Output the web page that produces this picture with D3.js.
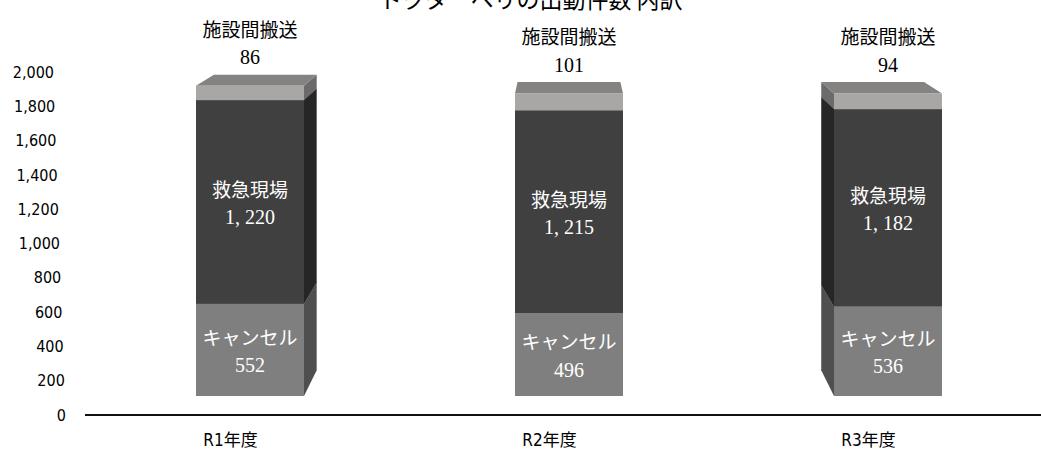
<!DOCTYPE html>
<html>
<head>
<meta charset="utf-8">
<script src="https://cdn.jsdelivr.net/npm/d3@7"></script>
<style>
  body { margin: 0; background: #fff; }
  svg { display: block; }
</style>
</head>
<body>
<script>
const svgWidth = 1041
const svgHeight = 455

// data
const years = ["R1年度", "R2年度", "R3年度"]
const seriesNames = ["キャンセル", "救急現場", "施設間搬送"]
const cancelled = [552, 496, 536]
const onSite = [1220, 1215, 1182]
const transfer = [86, 101, 94]
const yTicks = [0, 200, 400, 600, 800, 1000, 1200, 1400, 1600, 1800, 2000]
const title = "ドクターヘリの出動件数 内訳"

// face colours per series: front, side, top
const faceColors = [
  { front: "#7f7f7f", side: "#4f4f4f", top: "#6a6a6a" },
  { front: "#404040", side: "#262626", top: "#353535" },
  { front: "#a9a6a6", side: "#6c6a6a", top: "#858282" }
]

// perspective point the bar back faces shrink toward
const vp = { x: 568, y: -143 }
const depth = 0.048
const barWidth = 108

const svg = d3.select("body").append("svg")
  .attr("width", svgWidth)
  .attr("height", svgHeight)

const x = d3.scalePoint()
  .domain(years)
  .range([250, 888])

// axis scale (floor is at the front) and bar scale (bars stand further back)
const yAxisScale = d3.scaleLinear().domain([0, 2000]).range([415, 72])
const yBar = d3.scaleLinear().domain([0, 2000]).range([396, 62])

const fmt = d3.format(",")

// title, cropped at the top like the source
svg.append("text")
  .attr("x", 531)
  .attr("y", 8)
  .attr("text-anchor", "middle")
  .attr("font-family", "Noto Sans CJK JP")
  .attr("font-size", "23px")
  .attr("fill", "#000")
  .text(title)

// y axis
const yAxisG = svg.append("g")
  .attr("transform", "translate(66, 0)")
  .call(d3.axisLeft(yAxisScale).tickValues(yTicks).tickFormat(fmt).tickSize(0).tickPadding(0))
yAxisG.select(".domain").remove()
yAxisG.selectAll("text")
  .attr("x", d => -(d / 2000) * 12)
  .attr("font-family", "DejaVu Sans Condensed, Liberation Sans Narrow, Liberation Sans")
  .attr("font-stretch", "condensed")
  .attr("font-size", "16px")
  .attr("fill", "#000")

// floor line
svg.append("line")
  .attr("x1", 85).attr("x2", svgWidth)
  .attr("y1", yAxisScale(0)).attr("y2", yAxisScale(0))
  .attr("stroke", "#111")
  .attr("stroke-width", 2)

// x axis labels
const xAxisG = svg.append("g")
  .attr("transform", `translate(-20, ${yAxisScale(0)})`)
  .call(d3.axisBottom(x).tickSize(0).tickPadding(19))
xAxisG.select(".domain").remove()
xAxisG.selectAll("text")
  .attr("font-family", "DejaVu Sans Condensed, Liberation Sans Narrow, Noto Sans CJK JP")
  .attr("font-stretch", "condensed")
  .attr("font-size", "17px")
  .attr("fill", "#000")

// stacked segments
const stack = years.map((yr, i) => {
  const vals = [cancelled[i], onSite[i], transfer[i]]
  let base = 0
  return vals.map((v, s) => {
    const seg = { year: yr, series: s, value: v, y0: base, y1: base + v }
    base += v
    return seg
  })
})

const back = p => [p[0] + depth * (vp.x - p[0]), p[1] + depth * (vp.y - p[1])]
const pts = arr => arr.map(p => p.join(",")).join(" ")

const plotArea = svg.append("g").classed("plot-area", true)

stack.forEach(segs => {
  const g = plotArea.append("g")
  segs.forEach(seg => {
    const cx = x(seg.year)
    const x0 = cx - barWidth / 2
    const x1 = cx + barWidth / 2
    const yb = yBar(seg.y0)
    const yt = yBar(seg.y1)
    const c = faceColors[seg.series]

    const fl = [x0, yt], fr = [x1, yt], bl = [x0, yb], br = [x1, yb]
    const bfl = back(fl), bfr = back(fr), bbl = back(bl), bbr = back(br)

    if (bfr[0] > x1) {
      g.append("polygon").attr("points", pts([fr, bfr, bbr, br])).attr("fill", c.side)
    }
    if (bfl[0] < x0) {
      g.append("polygon").attr("points", pts([fl, bfl, bbl, bl])).attr("fill", c.side)
    }
    g.append("polygon").attr("points", pts([fl, bfl, bfr, fr])).attr("fill", c.top)
    g.append("rect")
      .attr("x", x0).attr("y", yt)
      .attr("width", barWidth).attr("height", yb - yt)
      .attr("fill", c.front)
  })
})

// labels
stack.forEach(segs => {
  segs.forEach(seg => {
    const cx = x(seg.year)
    const numText = fmt(seg.value).replace(",", ", ")
    let nameY, numY, color
    if (seg.series < 2) {
      const mid = (yBar(seg.y0) + yBar(seg.y1)) / 2
      nameY = mid - 12
      numY = mid + 15
      color = "#fff"
    } else {
      const top = yBar(seg.y1)
      nameY = top - 56
      numY = top - 29
      color = "#000"
    }
    svg.append("text")
      .attr("x", cx).attr("y", nameY).attr("dy", "0.36em")
      .attr("text-anchor", "middle")
      .attr("font-family", "Noto Sans CJK JP")
      .attr("font-size", "19px")
      .attr("fill", color)
      .text(seriesNames[seg.series])
    svg.append("text")
      .attr("x", cx).attr("y", numY).attr("dy", "0.36em")
      .attr("text-anchor", "middle")
      .attr("font-family", "Liberation Serif")
      .attr("font-size", "20px")
      .attr("fill", color)
      .text(numText)
  })
})
</script>
</body>
</html>
